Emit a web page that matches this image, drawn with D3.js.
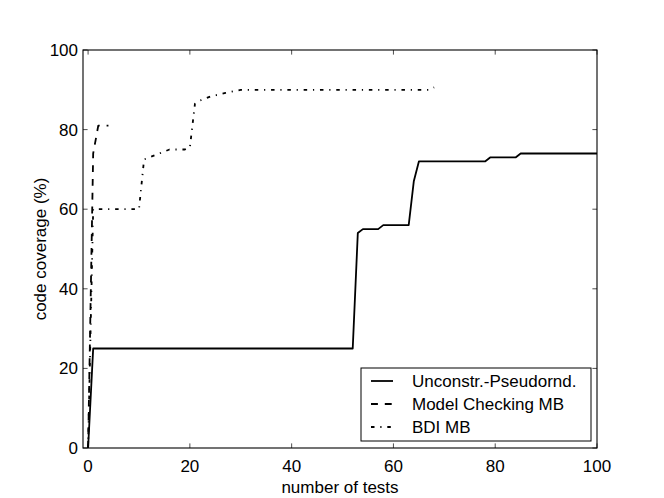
<!DOCTYPE html>
<html><head><meta charset="utf-8">
<script src="https://cdn.jsdelivr.net/npm/d3@7"></script>
<style>body{margin:0;background:#fff}</style>
</head><body><svg id="c" width="664" height="498"></svg>
<script>
const xTicks=[0,20,40,60,80,100];
const yTicks=[0,20,40,60,80,100];
const seriesNames=["Unconstr.-Pseudornd.","Model Checking MB","BDI MB"];
const pseudoX=[0,1,52,53,54,57,58,63,64,65,78,79,84,85,100];
const pseudoY=[0,25,25,54,55,55,56,56,67,72,72,73,73,74,74];
const mcX=[0,1,2,3,4];
const mcY=[0,74,81,81,81];
const bdiX=[0,1,10,11,12,14,16,19,20,21,22,24,27,30,67,68];
const bdiY=[0,60,60,72.5,73,74,75,75,75.5,86.5,87.3,88.3,89.2,90,90,90.6];
const xLabel="number of tests", yLabel="code coverage (%)";

const svg=d3.select("#c");
const L=83,R=597,T=50,B=448;
const x=d3.scaleLinear().domain([-1,100]).range([L,R]);
const y=d3.scaleLinear().domain([0,100]).range([B,T]);
const font="'Liberation Sans', Arial, sans-serif";
const fs=17;

const dashes=[null,"6.9,6.9","3.5,5.8,1.2,5.8"];
const series=[[pseudoX,pseudoY],[mcX,mcY],[bdiX,bdiY]];
const line=d3.line().x(d=>x(d[0])).y(d=>y(d[1]));
const g=svg.append("g");
g.append("clipPath").attr("id","clip").append("rect").attr("x",L).attr("y",T).attr("width",R-L).attr("height",B-T);
series.forEach((s,i)=>{
  const pts=s[0].map((v,j)=>[v,s[1][j]]);
  const p=g.append("path").attr("d",line(pts)).attr("fill","none").attr("stroke","#000")
   .attr("stroke-width",1.8).attr("clip-path","url(#clip)").attr("stroke-linejoin","round");
  if(dashes[i]) p.attr("stroke-dasharray",dashes[i]);
});

// axes with inward ticks
const tl=4.6;
const ax=svg.append("g");
xTicks.forEach(t=>{
  ax.append("line").attr("x1",x(t)).attr("x2",x(t)).attr("y1",B).attr("y2",B-tl).attr("stroke","#000").attr("stroke-width",0.7);
  ax.append("line").attr("x1",x(t)).attr("x2",x(t)).attr("y1",T).attr("y2",T+tl).attr("stroke","#000").attr("stroke-width",0.7);
  ax.append("text").attr("x",x(t)).attr("y",B+18).attr("dy","0.35em").attr("text-anchor","middle").attr("font-family",font).attr("font-size",fs).text(t);
});
yTicks.forEach(t=>{
  ax.append("line").attr("x1",L).attr("x2",L+tl).attr("y1",y(t)).attr("y2",y(t)).attr("stroke","#000").attr("stroke-width",0.7);
  ax.append("line").attr("x1",R).attr("x2",R-tl).attr("y1",y(t)).attr("y2",y(t)).attr("stroke","#000").attr("stroke-width",0.7);
  ax.append("text").attr("x",L-5).attr("y",y(t)).attr("dy","0.35em").attr("text-anchor","end").attr("font-family",font).attr("font-size",fs).text(t);
});
svg.append("rect").attr("x",L).attr("y",T).attr("width",R-L).attr("height",B-T).attr("fill","none").attr("stroke","#000").attr("stroke-width",1.1);

svg.append("text").attr("x",(L+R)/2).attr("y",487).attr("dy","0.35em").attr("text-anchor","middle").attr("font-family",font).attr("font-size",fs).text(xLabel);
svg.append("text").attr("transform",`translate(40,${(T+B)/2}) rotate(-90)`).attr("dy","0.35em").attr("text-anchor","middle").attr("font-family",font).attr("font-size",fs).text(yLabel);

// legend
const lg=svg.append("g");
const bx=361,by=368,bw=230,bh=73;
lg.append("rect").attr("x",bx).attr("y",by).attr("width",bw).attr("height",bh).attr("fill","#fff").attr("stroke","#000").attr("stroke-width",1);
seriesNames.forEach((n,i)=>{
  const yy=by+13+i*23;
  const l=lg.append("line").attr("x1",bx+10).attr("x2",bx+32).attr("y1",yy).attr("y2",yy).attr("stroke","#000").attr("stroke-width",1.8);
  if(dashes[i]) l.attr("stroke-dasharray",dashes[i]);
  lg.append("text").attr("x",bx+51).attr("y",yy).attr("dy","0.35em").attr("font-family",font).attr("font-size",fs).text(n);
});
</script></body></html>
